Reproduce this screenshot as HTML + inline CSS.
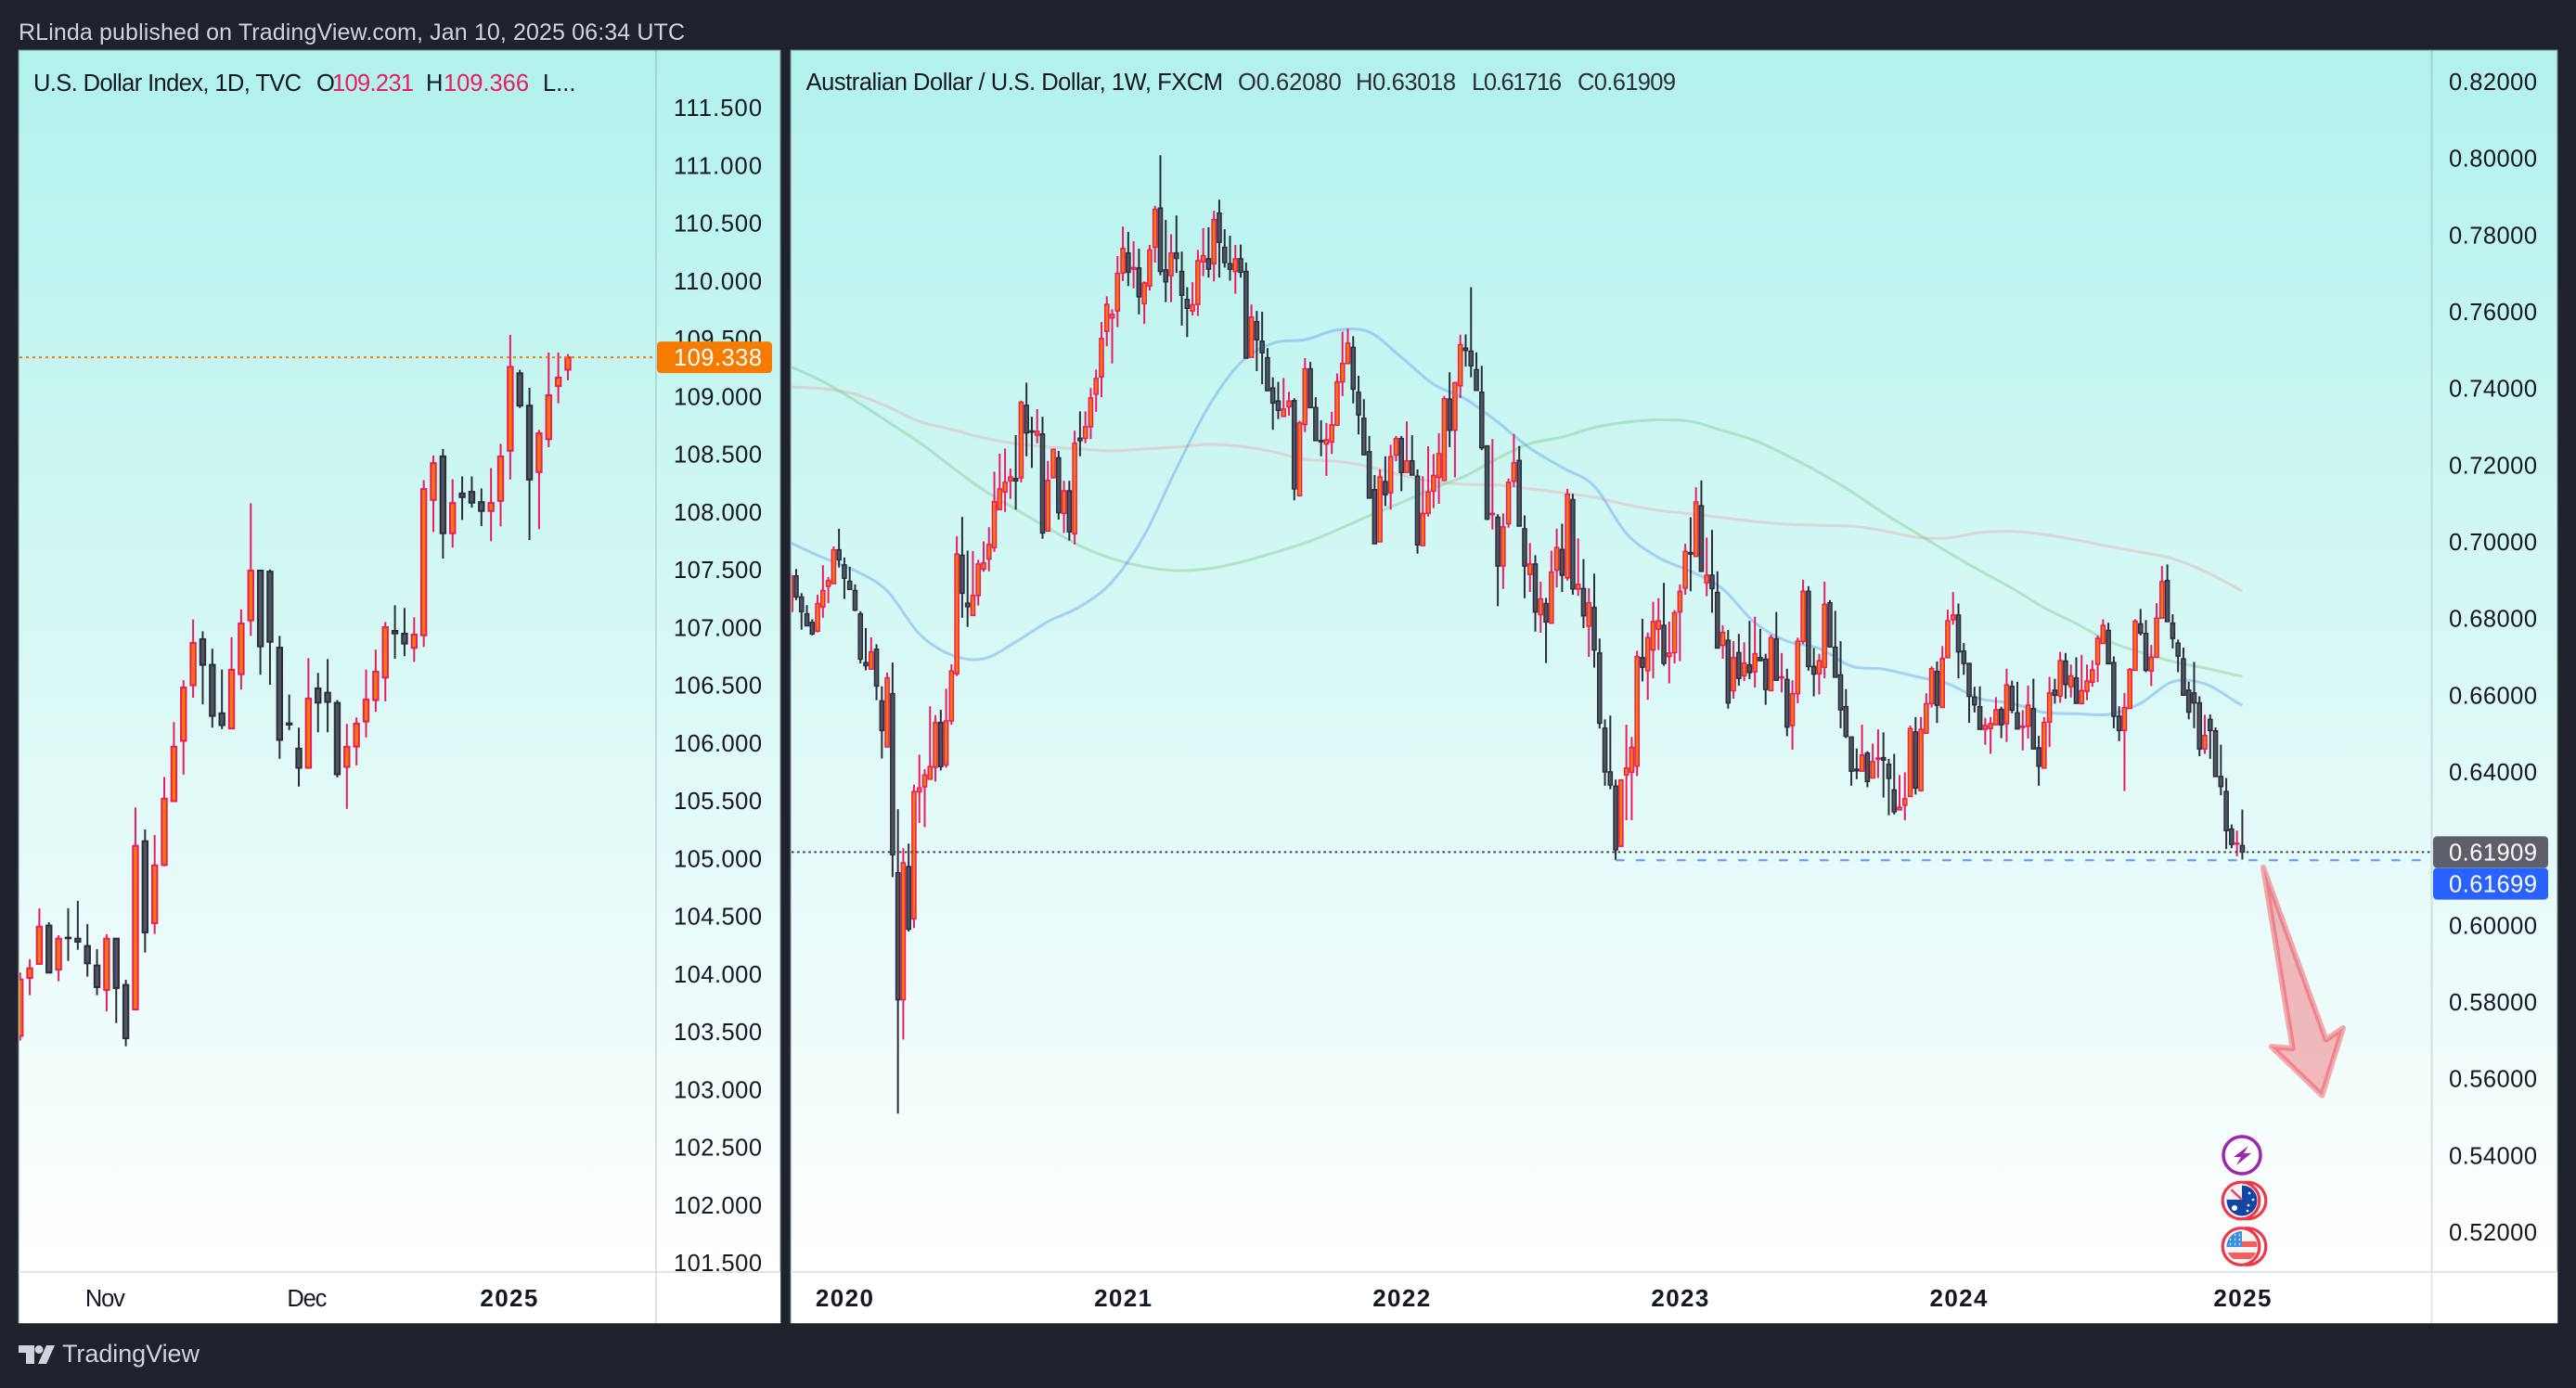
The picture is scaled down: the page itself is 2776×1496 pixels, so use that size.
<!DOCTYPE html>
<html lang="en">
<head>
<meta charset="utf-8">
<title>RLinda TradingView chart</title>
<style>
html,body{margin:0;padding:0;background:#1e222d;width:2776px;height:1496px;overflow:hidden}
svg{display:block}
text{font-family:"Liberation Sans",sans-serif}
</style>
</head>
<body>
<svg id="root" xmlns="http://www.w3.org/2000/svg" width="2776" height="1496" viewBox="0 0 2776 1496">
<defs>
<linearGradient id="panelBg" gradientUnits="userSpaceOnUse" x1="0" y1="54" x2="0" y2="1370">
<stop offset="0" stop-color="#b2f2ec"/><stop offset="1" stop-color="#ffffff"/>
</linearGradient>
<clipPath id="leftPlot"><rect x="21" y="55" width="686" height="1315"/></clipPath>
<clipPath id="rightPlot"><rect x="853" y="55" width="1767" height="1315"/></clipPath>
<clipPath id="auFlag"><circle cx="2416" cy="1294" r="16.5"/></clipPath>
<clipPath id="usFlag"><circle cx="2416" cy="1343.5" r="16.5"/></clipPath>
</defs>
<rect x="0" y="0" width="2776" height="1496" fill="#1e222d"/>
<text x="20" y="43" font-size="25" fill="#d1d4dc" textLength="718" lengthAdjust="spacing">RLinda published on TradingView.com, Jan 10, 2025 06:34 UTC</text>

<g>
<rect x="20" y="54" width="821" height="1372" fill="url(#panelBg)" stroke="#7b8189" stroke-width="1"/>
<g id="dxyAxis"></g>
<line x1="707" y1="54" x2="707" y2="1426" stroke="#2a2e39" stroke-opacity="0.14" stroke-width="2"/>
<g id="dxyPlot" clip-path="url(#leftPlot)"></g>
<line id="dxyLast" x1="21" x2="707" stroke="#f57c00" stroke-width="2" stroke-dasharray="3 4"/>
<g id="dxyTag"></g>
<rect x="21" y="1370" width="820" height="56" fill="#ffffff"/>
<line x1="20" y1="1371" x2="841" y2="1371" stroke="#e2e3e5" stroke-width="2"/>
<line x1="707" y1="1370" x2="707" y2="1426" stroke="#e2e3e5" stroke-width="2"/>
<g id="dxyTime"></g>
<g font-size="25.5">
<text x="36" y="98" fill="#131722" textLength="289" lengthAdjust="spacing">U.S. Dollar Index, 1D, TVC</text>
<text x="341" y="98" fill="#131722">O</text>
<text x="358" y="98" fill="#ec1a60" textLength="88" lengthAdjust="spacing">109.231</text>
<text x="459" y="98" fill="#131722">H</text>
<text x="478" y="98" fill="#ec1a60" textLength="92" lengthAdjust="spacing">109.366</text>
<text x="585" y="98" fill="#131722">L...</text>
</g>
</g>

<g>
<rect x="852" y="54" width="1904" height="1372" fill="url(#panelBg)" stroke="#7b8189" stroke-width="1"/>
<g id="audAxis"></g>
<line x1="2620.5" y1="54" x2="2620.5" y2="1426" stroke="#2a2e39" stroke-opacity="0.14" stroke-width="2"/>
<g clip-path="url(#rightPlot)">
<g id="audMa" fill="none" stroke-width="3" stroke-linejoin="round"></g>
<g id="audPlot"></g>
</g>
<line id="audLast" x1="853" x2="2620" stroke="#3d4150" stroke-width="2" stroke-dasharray="2.5 3.6"/>
<line id="audLevel" x2="2610" stroke="#6f9ff8" stroke-width="2.2" stroke-dasharray="9.5 12.5"/>
<polygon points="2439,935 2506.7,1120.5 2525,1108 2502.3,1180.6 2447.7,1128 2470.7,1130" fill="#f03a48" fill-opacity="0.35" stroke="#f23645" stroke-opacity="0.42" stroke-width="6" stroke-linejoin="round"/>
<g id="audTags"></g>
<g>
<g>
<circle cx="2416" cy="1245" r="20" fill="#ffffff" stroke="#9c27b0" stroke-width="3.5"/>
<polygon points="2423,1235 2407,1247 2415,1247 2410,1256 2426,1243 2418,1243" fill="#9c27b0"/>
</g>
<g>
<circle cx="2422" cy="1294" r="19.8" fill="#ffffff" stroke="#f23645" stroke-width="3.2"/>
<circle cx="2415" cy="1294" r="19.8" fill="#ffffff" stroke="#f23645" stroke-width="3.2"/>
<circle cx="2416" cy="1294" r="16.5" fill="#1346a4"/>
<g clip-path="url(#auFlag)">
<rect x="2399" y="1277" width="17" height="16" fill="#f5f0f2"/>
<line x1="2400" y1="1278" x2="2416" y2="1293" stroke="#e64b58" stroke-width="2.5"/>
<circle cx="2408" cy="1302" r="3" fill="#ffffff"/>
<circle cx="2424" cy="1286" r="1.3" fill="#ffffff"/>
<circle cx="2428" cy="1293" r="1.3" fill="#ffffff"/>
<circle cx="2423" cy="1299" r="1.3" fill="#ffffff"/>
<circle cx="2422" cy="1305" r="1.3" fill="#ffffff"/>
</g>
</g>
<g>
<circle cx="2422" cy="1343.5" r="19.8" fill="#ffffff" stroke="#f23645" stroke-width="3.2"/>
<circle cx="2415" cy="1343.5" r="19.8" fill="#ffffff" stroke="#f23645" stroke-width="3.2"/>
<circle cx="2416" cy="1343.5" r="16.5" fill="#f9f3f3"/>
<g clip-path="url(#usFlag)">
<rect x="2399" y="1338" width="34" height="6" fill="#f0605f"/>
<rect x="2399" y="1350" width="34" height="7" fill="#f0605f"/>
<rect x="2399" y="1326" width="17" height="18" fill="#3d8fe0"/>
<path d="M2403 1331h1M2408 1331h1M2413 1331h1M2403 1336h1M2408 1336h1M2413 1336h1M2403 1341h1M2408 1341h1M2413 1341h1" stroke="#ffffff" stroke-width="2.2"/>
</g>
</g>
</g>
<rect x="853" y="1370" width="1903" height="56" fill="#ffffff"/>
<line x1="852" y1="1371" x2="2756" y2="1371" stroke="#e2e3e5" stroke-width="2"/>
<line x1="2620.5" y1="1370" x2="2620.5" y2="1426" stroke="#e2e3e5" stroke-width="2"/>
<g id="audTime"></g>
<g font-size="25.5">
<text x="868.6" y="97" fill="#131722" textLength="449.4" lengthAdjust="spacing">Australian Dollar / U.S. Dollar, 1W, FXCM</text>
<text x="1334" y="97" fill="#2a2e39" textLength="111.7" lengthAdjust="spacing">O0.62080</text>
<text x="1461" y="97" fill="#2a2e39" textLength="108" lengthAdjust="spacing">H0.63018</text>
<text x="1586" y="97" fill="#2a2e39" textLength="97" lengthAdjust="spacing">L0.61716</text>
<text x="1700" y="97" fill="#2a2e39" textLength="106" lengthAdjust="spacing">C0.61909</text>
</g>
</g>

<g>
<path d="M20 1450H37V1470H28V1458H20Z" fill="#d1d4dc"/>
<circle cx="42" cy="1454.5" r="4.5" fill="#d1d4dc"/>
<path d="M50 1450H59L50 1470H41Z" fill="#d1d4dc"/>
<text x="67" y="1468" font-size="27" fill="#d1d4dc" textLength="148" lengthAdjust="spacing">TradingView</text>
</g>
</svg>
<script>
/* U.S. Dollar Index, daily */
const dxyOpen=[103.463,103.966,104.087,104.419,104.038,104.314,104.306,104.242,104.073,103.862,104.306,103.905,103.693,105.149,104.44,104.943,105.496,106.018,106.499,106.898,106.676,106.256,106.125,106.595,107.061,107.492,107.483,106.825,106.17,105.951,105.785,106.472,106.435,106.347,105.793,105.969,106.186,106.371,106.566,106.97,106.946,106.823,106.932,108.104,108.481,107.815,108.16,108.174,108.085,108.008,108.096,108.53,109.2,108.92,108.345,108.63,109.09,109.231];
const dxyHigh=[104.012,104.127,104.568,104.448,104.335,104.568,104.633,104.432,104.215,104.344,104.306,103.95,105.442,105.251,105.203,105.705,106.181,106.542,107.069,106.967,106.815,106.636,106.916,107.157,108.075,107.492,107.502,106.927,106.419,106.133,106.734,106.606,106.726,106.371,106.165,106.221,106.636,106.807,107.047,107.192,107.168,107.088,108.275,108.489,108.545,108.283,108.307,108.307,108.203,108.38,108.59,109.533,109.23,109.075,108.71,109.38,109.38,109.366];
const dxyLow=[103.423,103.816,104.087,104.012,103.937,104.113,104.21,103.977,103.816,103.677,103.575,103.375,103.693,104.186,104.346,104.932,105.496,105.726,106.392,106.333,106.133,106.119,106.125,106.462,106.927,106.59,106.504,105.862,106.111,105.622,105.785,106.092,106.092,105.702,105.429,105.806,106.047,106.269,106.36,106.729,106.751,106.702,106.831,107.826,107.596,107.692,107.93,108.037,107.877,107.746,107.874,108.28,108.9,107.756,107.85,108.56,108.94,109.14];
const dxyClose=[103.953,104.049,104.41,104.012,104.306,104.309,104.279,104.092,103.886,104.306,103.878,103.444,105.109,104.36,104.94,105.517,105.967,106.48,106.866,106.676,106.234,106.154,106.633,107.034,107.492,106.836,106.876,106.026,106.159,105.785,106.384,106.349,106.355,105.729,105.967,106.167,106.376,106.617,107.002,106.948,106.86,106.938,108.198,108.422,107.815,108.077,108.128,108.08,108.008,108.077,108.48,109.256,108.92,108.28,108.68,109.01,109.163,109.338];
const dxyTicks=[111.5,111,110.5,110,109.5,109,108.5,108,107.5,107,106.5,106,105.5,105,104.5,104,103.5,103,102.5,102,101.5];
const dxyTimeLabels=["Nov","Dec","2025"];
const dxyTimeIndex=[9,30,51];
const dxyLastPrice=109.338;

/* Australian Dollar / U.S. Dollar, weekly */
const audOpen=[.6819,.6911,.6856,.6812,.6790,.6767,.6830,.6884,.6891,.6979,
.6940,.6897,.6873,.6812,.6685,.6668,.6720,.6585,.6465,.6604,
.6137,.5806,.6153,.6017,.6348,.6361,.6381,.6412,.6529,.6418,
.6533,.6656,.6965,.6840,.6808,.6860,.6929,.6955,.6985,.7084,
.7130,.7159,.7165,.7167,.7356,.7289,.7278,.7281,.7028,.7167,
.7219,.7074,.7133,.7021,.7270,.7270,.7300,.7385,.7430,.7549,
.7584,.7602,.7701,.7753,.7711,.7714,.7621,.7667,.7768,.7870,
.7709,.7694,.7753,.7705,.7632,.7602,.7619,.7730,.7738,.7725,
.7857,.7768,.7725,.7705,.7738,.7705,.7481,.7574,.7523,.7480,
.7401,.7367,.7327,.7352,.7368,.7120,.7306,.7451,.7350,.7264,
.7255,.7260,.7304,.7417,.7465,.7507,.7390,.7322,.7235,.7136,
.7000,.7157,.7128,.7226,.7269,.7181,.7211,.7171,.6990,.7074,
.7132,.7168,.7160,.7372,.7291,.7407,.7505,.7497,.7449,.7390,
.7250,.7071,.7064,.6937,.7047,.7158,.7212,.7034,.6915,.6942,
.6810,.6839,.6788,.6926,.6980,.6906,.7110,.6877,.6878,.6780,
.6829,.6710,.6514,.6400,.6363,.6206,.6392,.6399,.6415,.6698,
.6664,.6718,.6772,.6782,.6701,.6711,.6817,.6879,.6972,.6962,
.7094,.6893,.6913,.6868,.6730,.6743,.6612,.6711,.6651,.6679,
.6661,.6698,.6694,.6612,.6747,.6645,.6641,.6521,.6604,.6740,
.6871,.6675,.6656,.6673,.6841,.6725,.6653,.6570,.6491,.6407,
.6402,.6449,.6384,.6433,.6437,.6420,.6353,.6301,.6313,.6336,
.6504,.6351,.6501,.6578,.6662,.6568,.6698,.6797,.6809,.6715,
.6683,.6595,.6570,.6511,.6513,.6523,.6563,.6526,.6623,.6554,
.6516,.6519,.6565,.6463,.6410,.6530,.6613,.6598,.6689,.6622,
.6645,.6578,.6610,.6634,.6681,.6735,.6769,.6685,.6545,.6508,
.6566,.6665,.6786,.6761,.6663,.6699,.6801,.6899,.6788,.6736,
.6695,.6613,.6606,.6580,.6460,.6537,.6507,.6388,.6349,.6251,.6212,.62080];
const audHigh=[.6921,.6929,.6866,.6835,.6798,.6862,.6939,.6908,.6988,.7034,
.6959,.6935,.6889,.6819,.6775,.6751,.6733,.6623,.6659,.6685,
.6303,.6201,.6213,.6367,.6445,.6407,.6571,.6548,.6562,.6617,
.6681,.7014,.7065,.6977,.6976,.6953,.7001,.7038,.7183,.7230,
.7243,.7191,.7278,.7368,.7415,.7326,.7346,.7326,.7211,.7243,
.7237,.7159,.7159,.7290,.7340,.7340,.7401,.7449,.7573,.7640,
.7606,.7745,.7822,.7808,.7784,.7764,.7679,.7774,.7876,.8008,
.7839,.7802,.7851,.7757,.7664,.7677,.7761,.7818,.7820,.7863,
.7892,.7815,.7798,.7774,.7775,.7728,.7619,.7602,.7600,.7505,
.7429,.7417,.7427,.7391,.7374,.7316,.7479,.7469,.7377,.7317,
.7310,.7339,.7439,.7548,.7556,.7536,.7433,.7372,.7276,.7174,
.7189,.7223,.7253,.7276,.7276,.7314,.7278,.7189,.7171,.7249,
.7229,.7283,.7380,.7442,.7417,.7540,.7541,.7664,.7494,.7459,
.7250,.7268,.7072,.7074,.7165,.7281,.7250,.7069,.6997,.6965,
.6896,.6854,.6977,.7034,.7047,.7138,.7125,.7009,.6955,.6879,
.6917,.6748,.6537,.6547,.6380,.6380,.6523,.6491,.6716,.6799,
.6763,.6844,.6853,.6893,.6792,.6822,.6889,.6995,.7064,.7142,
.7160,.7011,.7031,.6923,.6782,.6770,.6741,.6760,.6738,.6794,
.6805,.6773,.6708,.6758,.6817,.6710,.6669,.6639,.6750,.6901,
.6884,.6723,.6708,.6896,.6848,.6820,.6741,.6616,.6491,.6461,
.6523,.6454,.6474,.6511,.6503,.6434,.6447,.6392,.6399,.6521,
.6543,.6543,.6605,.6675,.6688,.6728,.6823,.6869,.6839,.6736,
.6683,.6622,.6623,.6541,.6543,.6595,.6570,.6669,.6638,.6635,
.6561,.6625,.6643,.6494,.6543,.6648,.6643,.6713,.6710,.6680,
.6699,.6705,.6680,.6691,.6756,.6798,.6789,.6701,.6571,.6606,
.6671,.6798,.6825,.6796,.6731,.6840,.6937,.6941,.6811,.6745,
.6724,.6635,.6687,.6597,.6549,.6550,.6516,.6471,.6384,.6263,.6247,.63018];
const audLow=[.6812,.6848,.6771,.6781,.6756,.6764,.6802,.6840,.6891,.6933,
.6851,.6876,.6819,.6683,.6665,.6668,.6587,.6435,.6465,.6126,
.5509,.5702,.5984,.5993,.6267,.6256,.6381,.6375,.6404,.6411,
.6523,.6650,.6802,.6778,.6808,.6834,.6922,.6923,.6974,.7084,
.7078,.7112,.7084,.7155,.7223,.7193,.7257,.7008,.7028,.7167,
.7058,.7023,.7003,.6993,.7223,.7257,.7268,.7339,.7377,.7510,
.7465,.7560,.7680,.7667,.7661,.7593,.7568,.7655,.7728,.7695,
.7625,.7625,.7701,.7564,.7534,.7590,.7589,.7693,.7689,.7679,
.7689,.7715,.7681,.7647,.7689,.7479,.7481,.7445,.7411,.7394,
.7292,.7320,.7327,.7329,.7108,.7120,.7286,.7350,.7264,.7223,
.7172,.7229,.7304,.7380,.7463,.7361,.7280,.7227,.7114,.6995,
.7000,.7093,.7084,.7210,.7132,.7181,.7174,.6969,.6990,.7066,
.7088,.7099,.7160,.7247,.7168,.7375,.7457,.7429,.7395,.7239,
.7057,.7032,.6832,.6877,.7037,.7143,.7041,.6853,.6869,.6766,
.6763,.6684,.6788,.6881,.6869,.6899,.6862,.6859,.6775,.6700,
.6672,.6513,.6364,.6355,.6170,.6206,.6274,.6274,.6389,.6636,
.6588,.6644,.6718,.6677,.6631,.6683,.6689,.6862,.6871,.6962,
.6923,.6858,.6815,.6723,.6695,.6565,.6591,.6625,.6637,.6642,
.6620,.6690,.6575,.6612,.6639,.6607,.6493,.6458,.6579,.6733,
.6664,.6597,.6602,.6644,.6726,.6647,.6514,.6488,.6364,.6381,
.6402,.6360,.6384,.6384,.6333,.6287,.6289,.6301,.6274,.6336,
.6341,.6351,.6501,.6568,.6528,.6568,.6698,.6784,.6644,.6653,
.6528,.6555,.6511,.6471,.6447,.6523,.6488,.6478,.6553,.6512,
.6456,.6487,.6460,.6364,.6410,.6465,.6578,.6580,.6591,.6594,
.6579,.6578,.6587,.6622,.6634,.6735,.6682,.6514,.6480,.6350,
.6566,.6665,.6756,.6660,.6624,.6699,.6801,.6792,.6722,.6660,
.6600,.6537,.6514,.6441,.6447,.6434,.6388,.6339,.6199,.6201,.6180,.61716];
const audClose=[.6911,.6856,.6818,.6781,.6760,.6839,.6873,.6899,.6979,.6953,
.6905,.6876,.6822,.6694,.6677,.6713,.6624,.6508,.6645,.6184,
.5806,.6163,.5990,.6349,.6358,.6392,.6414,.6529,.6414,.6533,
.6663,.6968,.6866,.6831,.6860,.6942,.6945,.6993,.7105,.7138,
.7155,.7169,.7159,.7364,.7284,.7286,.7288,.7023,.7160,.7241,
.7076,.7133,.7026,.7257,.7264,.7300,.7375,.7426,.7530,.7619,
.7593,.7700,.7765,.7703,.7715,.7639,.7675,.7761,.7867,.7705,
.7678,.7753,.7739,.7643,.7609,.7618,.7733,.7746,.7711,.7840,
.7781,.7728,.7711,.7738,.7703,.7479,.7586,.7527,.7493,.7394,
.7362,.7343,.7346,.7367,.7138,.7310,.7451,.7350,.7264,.7261,
.7266,.7305,.7417,.7465,.7518,.7398,.7331,.7227,.7114,.6995,
.7169,.7123,.7222,.7269,.7181,.7211,.7174,.6992,.7074,.7130,
.7173,.7230,.7373,.7291,.7415,.7514,.7499,.7459,.7395,.7245,
.7059,.7074,.6937,.7039,.7155,.7206,.7041,.6937,.6942,.6817,
.6851,.6791,.6921,.6985,.6913,.7124,.6877,.6889,.6807,.6841,
.6718,.6527,.6400,.6366,.6197,.6379,.6410,.6464,.6701,.6673,
.6750,.6792,.6794,.6683,.6710,.6815,.6871,.6975,.6968,.7104,
.6923,.6913,.6878,.6723,.6764,.6580,.6698,.6644,.6684,.6659,
.6708,.6690,.6615,.6750,.6639,.6648,.6517,.6604,.6741,.6871,
.6675,.6655,.6690,.6837,.6726,.6647,.6562,.6493,.6402,.6403,
.6444,.6375,.6427,.6436,.6431,.6383,.6296,.6308,.6330,.6513,
.6358,.6511,.6578,.6669,.6574,.6696,.6794,.6809,.6713,.6683,
.6597,.6575,.6511,.6521,.6526,.6562,.6523,.6627,.6561,.6512,
.6519,.6574,.6460,.6415,.6529,.6606,.6600,.6690,.6628,.6650,
.6579,.6612,.6637,.6666,.6748,.6782,.6682,.6545,.6508,.6568,
.6667,.6793,.6762,.6665,.6699,.6801,.6896,.6792,.6748,.6702,
.6600,.6556,.6580,.6460,.6495,.6508,.6388,.6362,.6247,.6211,.6214,.61909];
/* moving averages, one reading every six weeks; the last reading is the final week */
const audMaFast=[.6997,.6959,.6925,.6872,.6760,.6705,.6695,.6739,.6792,.6831,.6896,.7017,.7191,.7353,.7467,.7518,.7527,.7552,.7547,.7481,.7411,.7372,.7312,.7244,.7194,.7145,.7022,.6959,.6923,.6877,.6789,.6741,.6722,.6676,.6668,.6649,.6630,.6591,.6579,.6555,.6552,.6550,.6579,.6635,.6630,.6581,.6574];
const audMaMid=[.7457,.7418,.7368,.7314,.7259,.7196,.7135,.7085,.7036,.6990,.6956,.6935,.6925,.6930,.6947,.6971,.6997,.7031,.7068,.7102,.7140,.7172,.7218,.7256,.7273,.7298,.7312,.7318,.7314,.7290,.7264,.7225,.7181,.7131,.7075,.7024,.6973,.6925,.6879,.6828,.6787,.6741,.6712,.6688,.6671,.6652,.6649];
const audMaSlow=[.7404,.7399,.7385,.7353,.7314,.7293,.7271,.7256,.7247,.7242,.7237,.7242,.7247,.7254,.7249,.7235,.7215,.7210,.7196,.7174,.7157,.7150,.7148,.7138,.7128,.7116,.7097,.7082,.7073,.7063,.7053,.7046,.7043,.7041,.7029,.7012,.7010,.7024,.7027,.7019,.7005,.6988,.6973,.6956,.6923,.6879,.6872];
const audTicks=[.82,.80,.78,.76,.74,.72,.70,.68,.66,.64,.62,.60,.58,.56,.54,.52];
const audTimeLabels=["2020","2021","2022","2023","2024","2025"];
const audTimeIndex=[10,62,114,166,218,271];
const audLastPrice=0.61909;
const audLevelPrice=0.61699;
const audLevelStartIndex=154;

const NS='http://www.w3.org/2000/svg';
function dxyX(i){return 21.7+i*10.356;}
function dxyY(p){return 116+(111.5-p)*124.5;}
function audX(i){return 852.2+i*5.772;}
function audY(p){return 1328-(p-0.52)*4133.5;}
function make(tag,parent,attrs){
  const el=document.createElementNS(NS,tag);
  for(const k in attrs){el.setAttribute(k,attrs[k]);}
  parent.appendChild(el);
  return el;
}
function drawCandles(parent,opens,highs,lows,closes,xf,yf,bodyW,strokeW,wickW,prefix){
  for(let i=0;i<opens.length;i++){
    const up=closes[i]>=opens[i];
    const edge=up?'#ec1a60':'#2a2e39';
    const x=xf(i);
    const top=yf(Math.max(opens[i],closes[i]));
    const bottom=yf(Math.min(opens[i],closes[i]));
    const wick=make('line',parent,{x1:x,x2:x,y1:yf(highs[i]),y2:yf(lows[i]),stroke:edge,'stroke-width':wickW});
    
    
    const body=make('rect',parent,{x:x-bodyW/2+strokeW/2,y:top,width:bodyW-strokeW,height:Math.max(bottom-top,0.5),fill:up?'#f57c00':'#515563',stroke:edge,'stroke-width':strokeW});
    
    
  }
}
function drawTicks(parent,ticks,yf,x,digits,prefix){
  ticks.forEach(function(t){
    const el=make('text',parent,{x:x,y:yf(t)+9,'font-size':25.5,fill:'#131722',textLength:95,lengthAdjust:'spacing'});
    el.textContent=t.toFixed(digits);
    
    
  });
}
function drawTag(parent,x,w,cy,h,color,label,textX,name){
  const r=make('rect',parent,{x:x,y:cy-h/2,width:w,height:h,rx:4,fill:color});
  
  
  const t=make('text',parent,{x:textX,y:cy+9,'font-size':25.5,fill:'#ffffff',textLength:95,lengthAdjust:'spacing'});
  t.textContent=label;
  
  
}
function drawTime(parent,labels,indexes,xf,nudge,prefix){
  labels.forEach(function(lab,k){
    const isYear=/^\d+$/.test(lab);
    const t=make('text',parent,{x:xf(indexes[k])+nudge,y:1408,'text-anchor':'middle','font-size':isYear?26:25.5,'font-weight':isYear?'bold':'normal',fill:'#131722',textLength:isYear?62:43,lengthAdjust:'spacing'});
    t.textContent=lab;
    
    
  });
}
function drawMa(parent,values,color,opacity,name){
  const last=audOpen.length-1;
  const px=values.map(function(v,i){return audX(Math.min(i*6,last));});
  const py=values.map(function(v){return audY(v);});
  let d='M'+px[0].toFixed(1)+' '+py[0].toFixed(1);
  for(let i=0;i<values.length-1;i++){
    const a=Math.max(i-1,0),b=Math.min(i+2,values.length-1);
    const c1x=px[i]+(px[i+1]-px[a])/6,c1y=py[i]+(py[i+1]-py[a])/6;
    const c2x=px[i+1]-(px[b]-px[i])/6,c2y=py[i+1]-(py[b]-py[i])/6;
    d+='C'+c1x.toFixed(1)+' '+c1y.toFixed(1)+' '+c2x.toFixed(1)+' '+c2y.toFixed(1)+' '+px[i+1].toFixed(1)+' '+py[i+1].toFixed(1);
  }
  const line=make('path',parent,{d:d,stroke:color,'stroke-opacity':opacity});
  
  
}

drawTicks(document.getElementById('dxyAxis'),dxyTicks,dxyY,726,3,'dxy');
drawCandles(document.getElementById('dxyPlot'),dxyOpen,dxyHigh,dxyLow,dxyClose,dxyX,dxyY,7.4,2,2,'dxy');
const dxyLastLine=document.getElementById('dxyLast');
dxyLastLine.setAttribute('y1',dxyY(dxyLastPrice));
dxyLastLine.setAttribute('y2',dxyY(dxyLastPrice));
drawTag(document.getElementById('dxyTag'),708,124,dxyY(dxyLastPrice),34,'#f57c00',dxyLastPrice.toFixed(3),726,'dxy-last-price');
drawTime(document.getElementById('dxyTime'),dxyTimeLabels,dxyTimeIndex,dxyX,-1.5,'dxy');

drawTicks(document.getElementById('audAxis'),audTicks,audY,2639,5,'aud');
const maGroup=document.getElementById('audMa');
drawMa(maGroup,audMaSlow,'#ef9a9a',0.36,'aud-slow-moving-average');
drawMa(maGroup,audMaMid,'#66bb6a',0.32,'aud-mid-moving-average');
drawMa(maGroup,audMaFast,'#5b9cf6',0.42,'aud-fast-moving-average');
drawCandles(document.getElementById('audPlot'),audOpen,audHigh,audLow,audClose,audX,audY,5.6,1.5,2,'aud');
const audLastLine=document.getElementById('audLast');
audLastLine.setAttribute('y1',audY(audLastPrice));
audLastLine.setAttribute('y2',audY(audLastPrice));
const audLevelLine=document.getElementById('audLevel');
audLevelLine.setAttribute('x1',audX(audLevelStartIndex));
audLevelLine.setAttribute('y1',audY(audLevelPrice));
audLevelLine.setAttribute('y2',audY(audLevelPrice));
const tags=document.getElementById('audTags');
drawTag(tags,2622,124,audY(audLastPrice),34,'#5d606b',audLastPrice.toFixed(5),2639,'aud-last-price');
drawTag(tags,2622,124,audY(audLevelPrice)+25.5,34,'#2962ff',audLevelPrice.toFixed(5),2639,'aud-support-price');
drawTime(document.getElementById('audTime'),audTimeLabels,audTimeIndex,audX,0,'aud');
</script>
</body>
</html>
